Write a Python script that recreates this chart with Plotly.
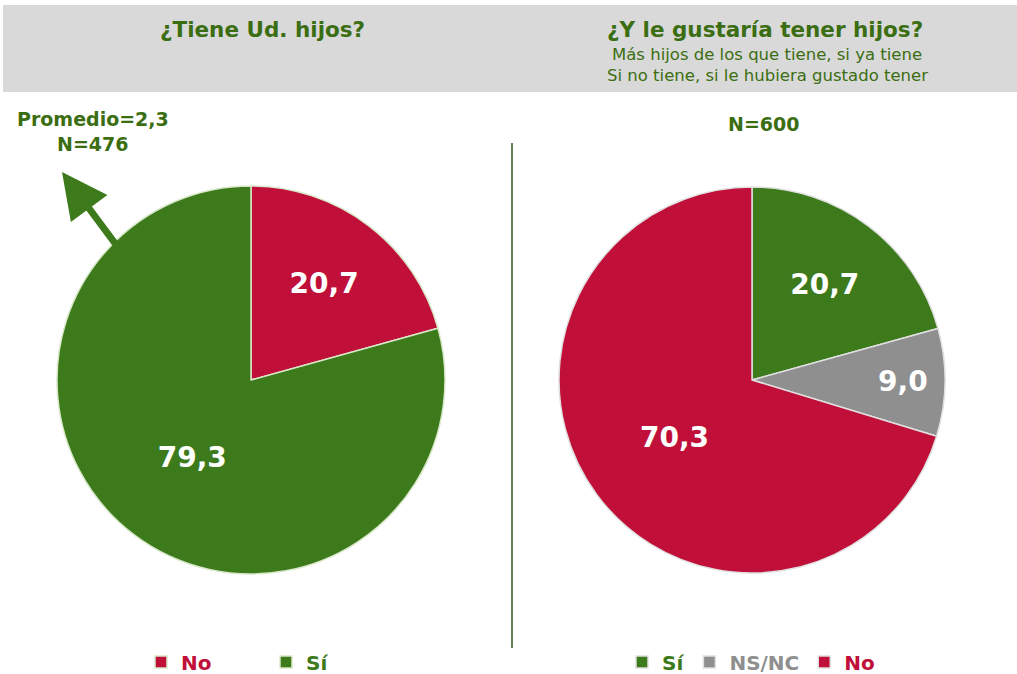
import plotly.graph_objects as go

# ---- data ----
left_labels = ["No", "Sí"]
left_values = [20.7, 79.3]
right_labels = ["Sí", "NS/NC", "No"]
right_values = [20.7, 9.0, 70.3]

title_left = "¿Tiene Ud. hijos?"
title_right = "¿Y le gustaría tener hijos?"
subtitle_right = ["Más hijos de los que tiene, si ya tiene", "Si no tiene, si le hubiera gustado tener"]
note_left = ["Promedio=2,3", "N=476"]
note_right = "N=600"

RED = "#c0103a"
GREEN = "#3d7a1c"
GRAY = "#8f8f8f"
TXT_GREEN = "#3b6e12"
color_map = {"No": RED, "Sí": GREEN, "NS/NC": GRAY}

FONT = "DejaVu Sans, Verdana, sans-serif"

W, H = 1017, 674

def px(x):
    return x / W

def py(y):
    return 1 - y / H

def lab_left(l):
    return f"<span style='color:{color_map[l]}'><b>{l}</b></span>"

def lab_right(l):
    # different markup so that the two legends do not merge equal labels
    return f"<b><span style='color:{color_map[l]}'>{l}</span></b>"

fig = go.Figure()

fig.add_trace(go.Pie(
    labels=[lab_left(l) for l in left_labels], values=left_values,
    marker=dict(colors=[color_map[l] for l in left_labels], line=dict(color="#d8e8c8", width=1.5)),
    sort=False, direction="clockwise", rotation=0,
    texttemplate="<b>%{value:.1f}</b>", textposition="inside", insidetextorientation="horizontal",
    textfont=dict(family=FONT, size=28, color="white"),
    domain=dict(x=[px(57), px(445)], y=[py(574), py(186)]),
    legend="legend", hoverinfo="label+value",
))

fig.add_trace(go.Pie(
    labels=[lab_right(l) for l in right_labels], values=right_values,
    marker=dict(colors=[color_map[l] for l in right_labels], line=dict(color="#e0e0e0", width=1.5)),
    sort=False, direction="clockwise", rotation=0,
    texttemplate="<b>%{value:.1f}</b>", textposition="inside", insidetextorientation="horizontal",
    textfont=dict(family=FONT, size=28, color="white"),
    domain=dict(x=[px(559), px(945)], y=[py(573), py(187)]),
    legend="legend2", hoverinfo="label+value",
))

# header band and divider
fig.add_shape(type="rect", xref="paper", yref="paper", x0=px(3), x1=1, y0=py(92), y1=py(5),
              fillcolor="#d9d9d9", line=dict(width=0), layer="below")
fig.add_shape(type="line", xref="paper", yref="paper", x0=px(512), x1=px(512), y0=py(648), y1=py(143),
              line=dict(color="#35521f", width=1.5))

ann = []
ann.append(dict(text=f"<b>{title_left}</b>", x=px(262), y=py(30), font=dict(family=FONT, size=21.5, color=TXT_GREEN)))
ann.append(dict(text=f"<b>{title_right}</b>", x=px(765), y=py(30), font=dict(family=FONT, size=21.5, color=TXT_GREEN)))
ann.append(dict(text=subtitle_right[0], x=px(767), y=py(55), font=dict(family=FONT, size=16.5, color=TXT_GREEN)))
ann.append(dict(text=subtitle_right[1], x=px(767), y=py(75), font=dict(family=FONT, size=16.5, color=TXT_GREEN)))
ann.append(dict(text=f"<b>{note_left[0]}</b>", x=px(93), y=py(119), font=dict(family=FONT, size=19, color=TXT_GREEN)))
ann.append(dict(text=f"<b>{note_left[1]}</b>", x=px(92), y=py(144), font=dict(family=FONT, size=19, color=TXT_GREEN)))
ann.append(dict(text=f"<b>{note_right}</b>", x=px(763), y=py(124), font=dict(family=FONT, size=19, color=TXT_GREEN)))
for a in ann:
    a.update(xref="paper", yref="paper", showarrow=False, xanchor="center", yanchor="middle")

# arrow
ann.append(dict(text="", xref="paper", yref="paper", axref="pixel", ayref="pixel",
                x=px(62), y=py(172), ax=55, ay=74, showarrow=True,
                arrowhead=2, arrowsize=1.3, arrowwidth=7, arrowcolor=GREEN))

fig.update_layout(
    width=W, height=H,
    margin=dict(l=0, r=0, t=0, b=0, autoexpand=False),
    paper_bgcolor="white", plot_bgcolor="white",
    separators=",.",
    annotations=ann,
    legend=dict(orientation="h", x=px(141), y=py(662), xanchor="left", yanchor="middle",
                font=dict(family=FONT, size=20), entrywidth=80, entrywidthmode="pixels",
                bgcolor="rgba(0,0,0,0)"),
    legend2=dict(orientation="h", x=px(622), y=py(662), xanchor="left", yanchor="middle",
                 font=dict(family=FONT, size=20), bgcolor="rgba(0,0,0,0)"),
)

fig.write_html("out.html", config={"displayModeBar": False},
               post_script="document.body.style.margin='0';document.body.style.overflow='hidden';")
